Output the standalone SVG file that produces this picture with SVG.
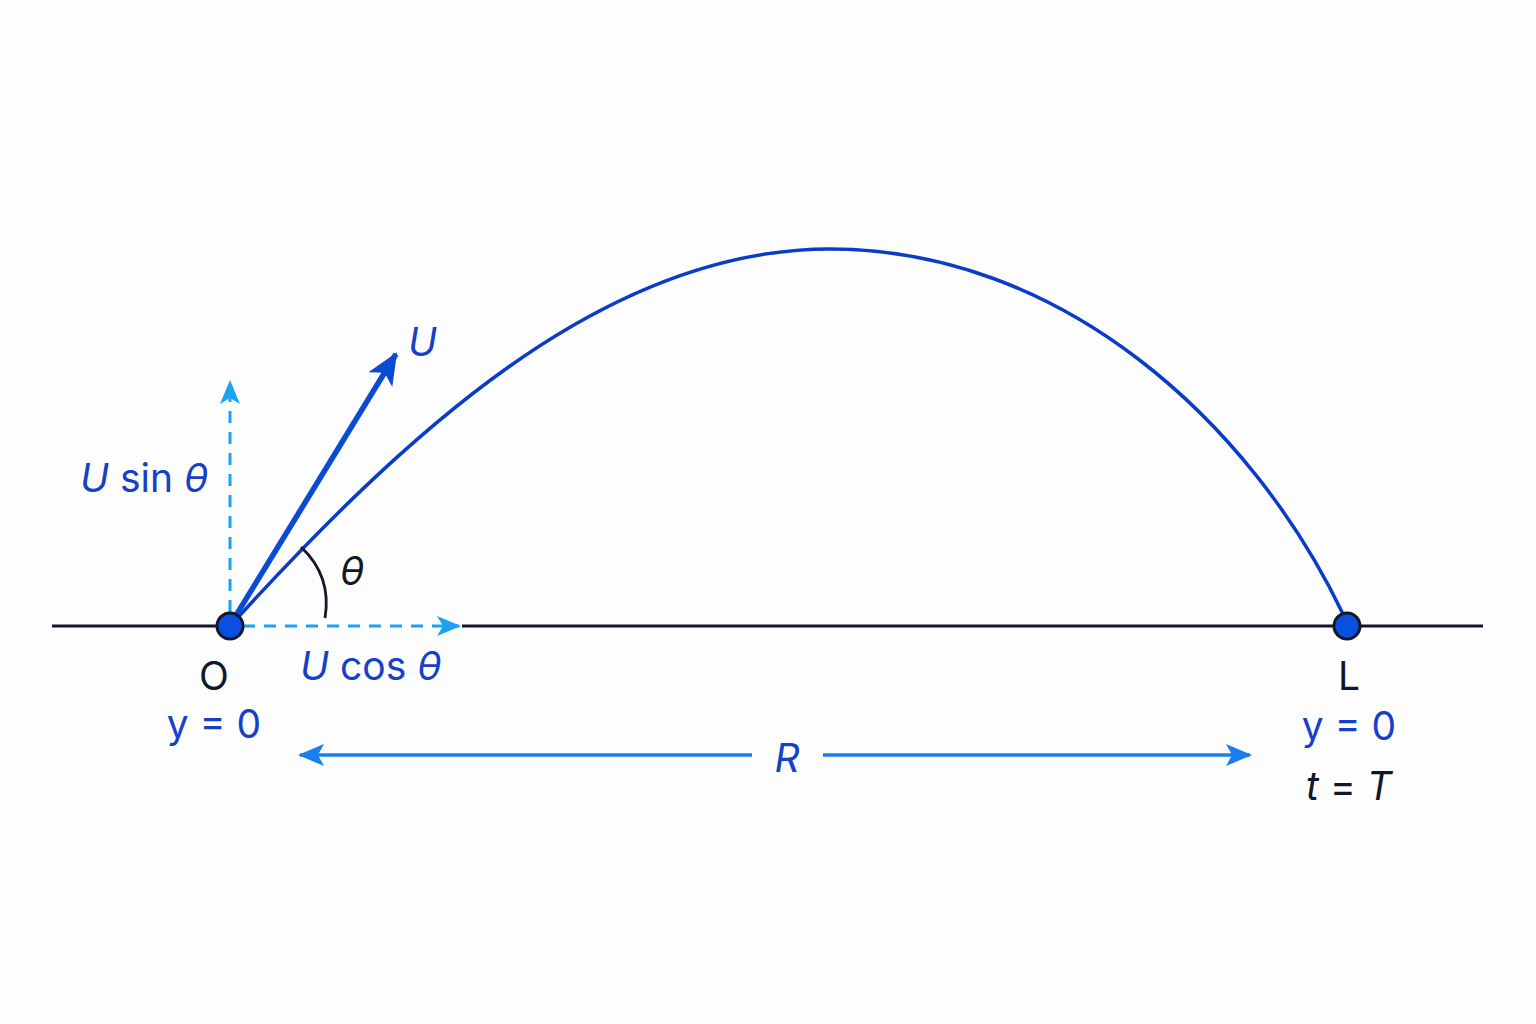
<svg xmlns="http://www.w3.org/2000/svg" width="1536" height="1024" viewBox="0 0 1536 1024">
<defs>
<style>
.t{font-family:Inter,"Noto Sans","Liberation Sans",sans-serif;font-size:39px}
.b{fill:#1540c8}
.k{fill:#111827}
.i{font-style:italic}
.dash{stroke:#1aa3f5;stroke-width:3;stroke-dasharray:12 9;fill:none}
</style>
<marker id="ad" viewBox="0 0 24 24" refX="22" refY="12" markerWidth="24" markerHeight="24" markerUnits="userSpaceOnUse" orient="auto"><path d="M0,2 L24,12 L0,22 L6,12 Z" fill="#1aa3f5"/></marker>
<marker id="au" viewBox="0 0 32 32" refX="30" refY="16" markerWidth="32" markerHeight="32" markerUnits="userSpaceOnUse" orient="auto"><path d="M0,2 L32,16 L0,30 L8,16 Z" fill="#0a4bd6"/></marker>
<marker id="ar" viewBox="0 0 26 26" refX="24" refY="13" markerWidth="26" markerHeight="26" markerUnits="userSpaceOnUse" orient="auto-start-reverse"><path d="M0,2 L26,13 L0,24 L6,13 Z" fill="#1a7fec"/></marker>
</defs>
<rect width="1536" height="1024" fill="#fdfdfe"/>
<g id="connectors">
<line x1="52" y1="626" x2="230" y2="626" stroke="#111827" stroke-width="3"/>
<line x1="462" y1="626" x2="1483" y2="626" stroke="#111827" stroke-width="3"/>
<path id="trajectory" d="M230,626 C400,440 600,249 830,249 C1060,249 1250,420 1343,614" fill="none" stroke="#0a3cc8" stroke-width="3.5"/>
<line class="dash" x1="230" y1="612" x2="230" y2="382" marker-end="url(#ad)"/>
<line class="dash" x1="243" y1="626" x2="459" y2="626" marker-end="url(#ad)"/>
<line x1="232" y1="622" x2="396" y2="354" stroke="#0a4bd6" stroke-width="5.5" marker-end="url(#au)"/>
<path d="M301,547 Q332,576 325,618" fill="none" stroke="#111827" stroke-width="2.8"/>
<line x1="752" y1="755" x2="300" y2="755" stroke="#1a7fec" stroke-width="3.5" marker-end="url(#ar)"/>
<line x1="823" y1="755" x2="1250" y2="755" stroke="#1a7fec" stroke-width="3.5" marker-end="url(#ar)"/>
</g>
<g id="node-O">
<circle cx="230" cy="626" r="13" fill="#0a50e0" stroke="#111827" stroke-width="3"/>
<text class="t k" x="214" y="690" text-anchor="middle" font-size="42">O</text>
<text class="t b" x="214" y="738" text-anchor="middle">y = 0</text>
</g>
<g id="node-L">
<circle cx="1347" cy="626" r="13" fill="#0a50e0" stroke="#111827" stroke-width="3"/>
<text class="t k" x="1349" y="690" text-anchor="middle" font-size="42">L</text>
<text class="t b" x="1349" y="740" text-anchor="middle">y = 0</text>
<text class="t k" x="1349" y="800" text-anchor="middle"><tspan class="i">t</tspan> = <tspan class="i">T</tspan></text>
</g>
<g id="labels">
<text class="t b i" x="408" y="356" font-size="41">U</text>
<text class="t b" x="80" y="492"><tspan class="i">U</tspan> sin <tspan class="i">θ</tspan></text>
<text class="t k i" x="340" y="585">θ</text>
<text class="t b" x="300" y="680"><tspan class="i">U</tspan> cos <tspan class="i">θ</tspan></text>
<text class="t b i" x="787" y="772" text-anchor="middle" font-size="40">R</text>
</g>
</svg>
